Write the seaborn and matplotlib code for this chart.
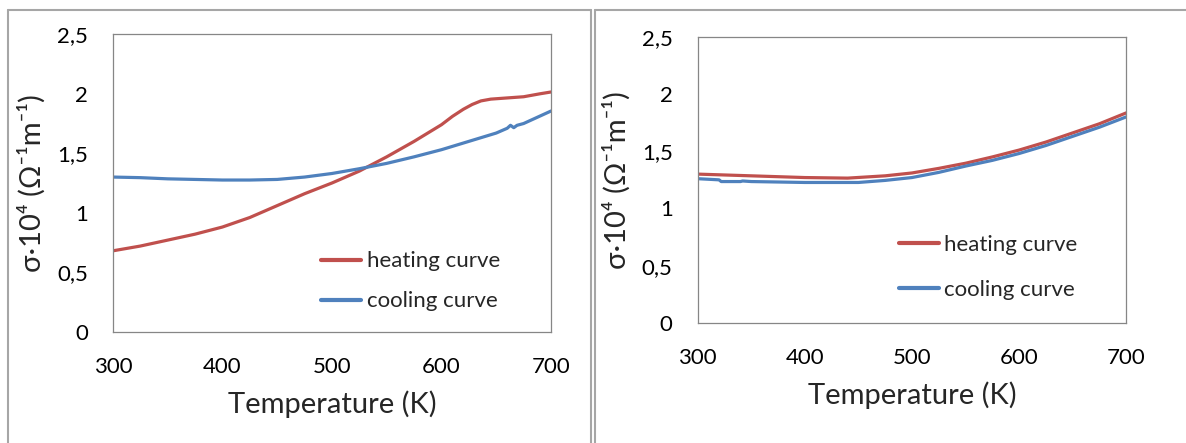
import numpy as np
import pandas as pd
import seaborn as sns
import matplotlib.pyplot as plt
from matplotlib.lines import Line2D

# left panel
t_heat_a = [300, 325, 350, 375, 400, 425, 450, 475, 500, 525, 550, 575, 600, 610, 620, 628, 636, 645, 660, 675, 690, 700]
s_heat_a = [0.68, 0.72, 0.77, 0.82, 0.88, 0.96, 1.06, 1.16, 1.25, 1.35, 1.47, 1.60, 1.74, 1.81, 1.87, 1.91, 1.94, 1.955, 1.965, 1.975, 2.00, 2.015]
t_cool_a = [300, 325, 350, 375, 400, 425, 450, 475, 500, 525, 550, 575, 600, 625, 650, 660, 663, 666, 669, 675, 700]
s_cool_a = [1.30, 1.295, 1.285, 1.28, 1.275, 1.275, 1.28, 1.30, 1.33, 1.37, 1.415, 1.47, 1.53, 1.60, 1.67, 1.71, 1.735, 1.715, 1.735, 1.75, 1.855]

# right panel
t_heat_b = [300, 350, 400, 440, 475, 500, 525, 550, 575, 600, 625, 650, 675, 700]
s_heat_b = [1.30, 1.285, 1.27, 1.265, 1.285, 1.31, 1.35, 1.395, 1.45, 1.51, 1.58, 1.66, 1.74, 1.835]
t_cool_b = [300, 320, 322, 340, 342, 350, 400, 450, 475, 500, 525, 550, 575, 600, 625, 650, 675, 700]
s_cool_b = [1.26, 1.25, 1.235, 1.235, 1.24, 1.235, 1.227, 1.227, 1.245, 1.27, 1.315, 1.37, 1.42, 1.48, 1.55, 1.63, 1.71, 1.80]

xticks = [300, 400, 500, 600, 700]
yticks = [0, 0.5, 1, 1.5, 2, 2.5]
ytick_labels = ["0", "0,5", "1", "1,5", "2", "2,5"]

sns.set_style("white")
plt.rcParams['font.family'] = ['Lato', 'DejaVu Sans']

red = "#C0504D"
blue = "#4F81BD"

fig = plt.figure(figsize=(11.86, 4.43), dpi=100)
ax1 = fig.add_axes([0.0952, 0.2512, 0.3694, 0.6714])
ax2 = fig.add_axes([0.5882, 0.2709, 0.3615, 0.6463])

panels = [
    (ax1, t_heat_a, s_heat_a, t_cool_a, s_cool_a, (0.476, 0.27), 0.9),
    (ax2, t_heat_b, s_heat_b, t_cool_b, s_cool_b, (0.469, 0.307), 1.1),
]

for ax, th, sh, tc, sc, anchor, spacing in panels:
    df = pd.concat([
        pd.DataFrame({"T": th, "s": sh, "curve": "heating curve"}),
        pd.DataFrame({"T": tc, "s": sc, "curve": "cooling curve"}),
    ])
    sns.lineplot(data=df, x="T", y="s", hue="curve", sort=False,
                 palette={"heating curve": red, "cooling curve": blue},
                 linewidth=2.3, ax=ax, estimator=None)
    ax.set_xlim(300, 700)
    ax.set_ylim(0, 2.5)
    ax.set_xticks(xticks)
    ax.set_yticks(yticks)
    ax.set_yticklabels(ytick_labels)
    ax.tick_params(axis='both', length=0, labelsize=16, colors='black')
    ax.tick_params(axis='x', pad=18)
    ax.tick_params(axis='y', pad=18)
    for sp in ax.spines.values():
        sp.set_color('#868686')
        sp.set_linewidth(0.9)
    ax.set_xlabel("Temperature (K)", fontsize=21, labelpad=10)
    ax.set_ylabel("σ·10⁴ (Ω⁻¹m⁻¹)", fontsize=21, labelpad=8)
    leg = ax.legend(loc='upper left', bbox_to_anchor=anchor, frameon=False,
                    fontsize=16, handlelength=1.8, handletextpad=0.25,
                    labelspacing=spacing, borderpad=0, borderaxespad=0)
    for h in leg.get_lines():
        h.set_linewidth(3)

# panel frames
gray = '#A6A6A6'
fig.add_artist(Line2D([8 / 1186, 8 / 1186], [0, 1 - 10 / 443], color=gray, lw=1.5))
fig.add_artist(Line2D([8 / 1186, 591 / 1186], [1 - 10 / 443, 1 - 10 / 443], color=gray, lw=1.5))
fig.add_artist(Line2D([591 / 1186, 591 / 1186], [0, 1 - 10 / 443], color=gray, lw=1.5))
fig.add_artist(Line2D([595 / 1186, 595 / 1186], [0, 1 - 10 / 443], color=gray, lw=1.5))
fig.add_artist(Line2D([595 / 1186, 1], [1 - 10 / 443, 1 - 10 / 443], color=gray, lw=1.5))

fig.savefig("out.png", dpi=100)
